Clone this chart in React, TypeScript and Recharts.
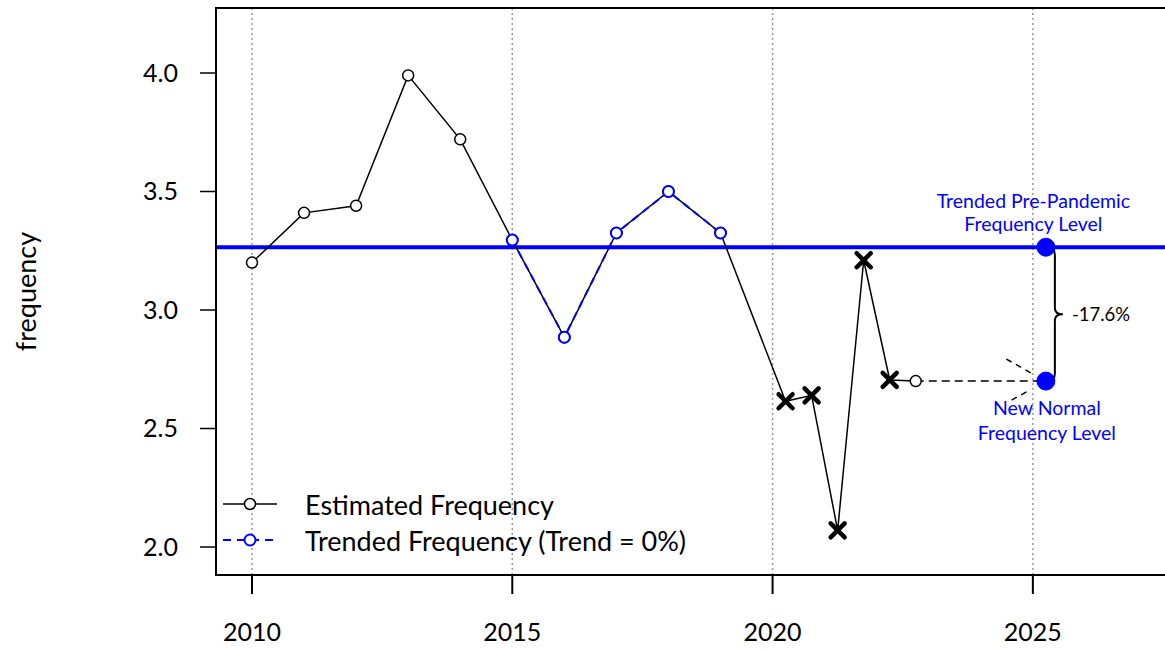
import {
  ComposedChart,
  Line,
  XAxis,
  YAxis,
  CartesianGrid,
  ReferenceLine,
  ReferenceDot,
  ReferenceArea,
  Legend,
  Label,
} from "recharts";

const FONT = "Lato, 'Open Sans', sans-serif";

// estimated frequency (annual, then half-year after 2020)
const estYears = [
  2010, 2011, 2012, 2013, 2014, 2015, 2016, 2017, 2018, 2019, 2020.25, 2020.75,
  2021.25, 2021.75, 2022.25, 2022.75,
];
const estValues = [
  3.2, 3.41, 3.44, 3.99, 3.72, 3.295, 2.885, 3.325, 3.5, 3.325, 2.615, 2.64,
  2.07, 3.21, 2.705, 2.7,
];
// "x" = pandemic-affected point
const estMarkers = [
  "o", "o", "o", "o", "o", "o", "o", "o", "o", "o", "x", "x", "x", "x", "x", "o",
];

const trendYears = [2015, 2016, 2017, 2018, 2019];
const trendValues = [3.295, 2.885, 3.325, 3.5, 3.325];

const xTicks = [2010, 2015, 2020, 2025];
const yTicks = [2.0, 2.5, 3.0, 3.5, 4.0];

const levelYear = 2025.25;
const prePandemicLevel = 3.265;
const newNormalLevel = 2.7;
const changeLabel = "-17.6%";

const estData = estYears.map((x, i) => ({ x, y: estValues[i], m: estMarkers[i] }));
const trendData = trendYears.map((x, i) => ({ x, y: trendValues[i] }));
const bridgeData = [
  { x: estYears[estYears.length - 1], y: newNormalLevel },
  { x: levelYear, y: newNormalLevel },
];

const EstDot = (props: any) => {
  const { cx, cy, index, payload } = props;
  if (cx == null || cy == null) return null;
  if (payload.m === "x") {
    const s = 7;
    return (
      <g key={`d${index}`} stroke="#000" strokeWidth={4.5} strokeLinecap="round">
        <line x1={cx - s} y1={cy - s} x2={cx + s} y2={cy + s} />
        <line x1={cx - s} y1={cy + s} x2={cx + s} y2={cy - s} />
      </g>
    );
  }
  return (
    <circle key={`d${index}`} cx={cx} cy={cy} r={5.5} fill="#fff" stroke="#000" strokeWidth={1.5} />
  );
};

const TrendDot = (props: any) => {
  const { cx, cy, index } = props;
  if (cx == null || cy == null) return null;
  return (
    <circle key={`t${index}`} cx={cx} cy={cy} r={5.5} fill="#fff" stroke="#0000ff" strokeWidth={2} />
  );
};

const Brace = (props: any) => {
  const { x1, y1, y2 } = props;
  if (x1 == null) return null;
  const x = x1 + 9;
  const ym = (y1 + y2) / 2;
  const d = `M${x1 + 2},${y1} Q${x},${y1} ${x},${y1 + 8} L${x},${ym - 6} Q${x},${ym} ${x + 8},${ym} Q${x},${ym} ${x},${ym + 6} L${x},${y2 - 8} Q${x},${y2} ${x1 + 2},${y2}`;
  return (
    <g>
      <path d={d} fill="none" stroke="#000" strokeWidth={2} />
      <text x={x + 17} y={ym} dominantBaseline="central" fontFamily={FONT} fontSize={18.5} fill="#000">
        {changeLabel}
      </text>
    </g>
  );
};

const levelLabel = (lines: string[], dx: number, dy: number, step: number) => (props: any) => {
  const vb = props.viewBox;
  if (!vb) return null;
  const cx = vb.x + vb.width / 2 + dx;
  const cy = vb.y + vb.height / 2 + dy;
  return (
    <text fontFamily={FONT} fontSize={19.5} fill="#0000ff" textAnchor="middle">
      {lines.map((t, i) => (
        <tspan key={i} x={cx} y={cy + i * step} dominantBaseline="central">
          {t}
        </tspan>
      ))}
    </text>
  );
};

const LegendContent = () => (
  <div style={{ fontFamily: FONT, fontSize: 27, color: "#000", whiteSpace: "nowrap" }}>
    <div style={{ display: "flex", alignItems: "center", height: 36 }}>
      <svg width={54} height={20} style={{ marginRight: 28 }}>
        <line x1={0} y1={10} x2={54} y2={10} stroke="#000" strokeWidth={1.5} />
        <circle cx={27} cy={10} r={5.5} fill="#fff" stroke="#000" strokeWidth={1.5} />
      </svg>
      <span>Estimated Frequency</span>
    </div>
    <div style={{ display: "flex", alignItems: "center", height: 36 }}>
      <svg width={54} height={20} style={{ marginRight: 28 }}>
        <line x1={0} y1={10} x2={54} y2={10} stroke="#0000ff" strokeWidth={2} strokeDasharray="8 6" />
        <circle cx={27} cy={10} r={5.5} fill="#fff" stroke="#0000ff" strokeWidth={2} />
      </svg>
      <span>Trended Frequency (Trend = 0%)</span>
    </div>
  </div>
);

const X_DOMAIN: [number, number] = [2009.3086, 2027.98];
const Y_DOMAIN: [number, number] = [1.8819, 4.2743];

export default function App() {
  return (
    <div style={{ position: "absolute", left: 0, top: 0, width: 1165, height: 651, overflow: "hidden", background: "#fff" }}>
      <ComposedChart width={1200} height={651} margin={{ top: 8, right: 12, bottom: 0, left: 0 }}>
        <CartesianGrid horizontal={false} stroke="#999" strokeDasharray="2 3" strokeWidth={1.5} />
        <XAxis
          type="number"
          dataKey="x"
          domain={X_DOMAIN}
          ticks={xTicks}
          allowDataOverflow
          height={76}
          tickSize={19}
          tickMargin={29}
          axisLine={{ stroke: "#000", strokeWidth: 2 }}
          tickLine={{ stroke: "#000", strokeWidth: 2 }}
          tick={{ fill: "#000", fontSize: 25, fontFamily: FONT }}
        />
        <YAxis
          type="number"
          dataKey="y"
          domain={Y_DOMAIN}
          ticks={yTicks}
          allowDataOverflow
          width={216}
          tickSize={16}
          tickMargin={22}
          tickFormatter={(v: number) => v.toFixed(1)}
          axisLine={{ stroke: "#000", strokeWidth: 2 }}
          tickLine={{ stroke: "#000", strokeWidth: 1.5 }}
          tick={{ fill: "#000", fontSize: 25, fontFamily: FONT }}
        >
          <Label
            content={(p: any) => {
              const vb = p.viewBox;
              const cx = vb.x + 25;
              const cy = vb.y + vb.height / 2 + 0;
              return (
                <text
                  x={cx}
                  y={cy}
                  transform={`rotate(-90 ${cx} ${cy})`}
                  textAnchor="middle"
                  dominantBaseline="central"
                  fontFamily={FONT}
                  fontSize={27}
                  fill="#000"
                >
                  frequency
                </text>
              );
            }}
          />
        </YAxis>
        <ReferenceArea
          x1={X_DOMAIN[0]}
          x2={X_DOMAIN[1]}
          y1={Y_DOMAIN[0]}
          y2={Y_DOMAIN[1]}
          fill="none"
          stroke="#000"
          strokeWidth={2}
          ifOverflow="visible"
        />
        <ReferenceLine y={prePandemicLevel} stroke="#0000ff" strokeWidth={4} />
        <Line
          data={bridgeData}
          dataKey="y"
          stroke="#000"
          strokeWidth={1.5}
          strokeDasharray="8 5"
          dot={false}
          isAnimationActive={false}
          legendType="none"
        />
        <Line
          data={estData}
          dataKey="y"
          name="Estimated Frequency"
          stroke="#000"
          strokeWidth={1.5}
          dot={EstDot}
          activeDot={false}
          isAnimationActive={false}
        />
        <Line
          data={trendData}
          dataKey="y"
          name="Trended Frequency (Trend = 0%)"
          stroke="#0000ff"
          strokeWidth={2}
          strokeDasharray="8 5"
          dot={TrendDot}
          activeDot={false}
          isAnimationActive={false}
        />
        <ReferenceLine
          segment={[
            { x: 2024.49, y: 2.793 },
            { x: 2025.0, y: 2.73 },
          ]}
          stroke="#000"
          strokeWidth={1.5}
          strokeDasharray="6 5"
        />
        <ReferenceLine
          segment={[
            { x: 2024.59, y: 2.62 },
            { x: 2024.94, y: 2.662 },
          ]}
          stroke="#000"
          strokeWidth={1.5}
          strokeDasharray="6 5"
        />
        <ReferenceLine
          segment={[
            { x: levelYear, y: prePandemicLevel },
            { x: levelYear, y: newNormalLevel },
          ]}
          shape={Brace}
        />
        <ReferenceDot x={levelYear} y={prePandemicLevel} r={9} fill="#0000ff" stroke="#0000ff">
          <Label content={levelLabel(["Trended Pre-Pandemic", "Frequency Level"], -12.5, -47, 23)} />
        </ReferenceDot>
        <ReferenceDot x={levelYear} y={newNormalLevel} r={9} fill="#0000ff" stroke="#0000ff">
          <Label content={levelLabel(["New Normal", "Frequency Level"], 1, 26, 25)} />
        </ReferenceDot>
        <Legend
          layout="horizontal"
          verticalAlign="middle"
          align="center"
          content={LegendContent}
          wrapperStyle={{ position: "absolute", left: 223, top: 486, width: "auto" }}
        />
      </ComposedChart>
    </div>
  );
}
